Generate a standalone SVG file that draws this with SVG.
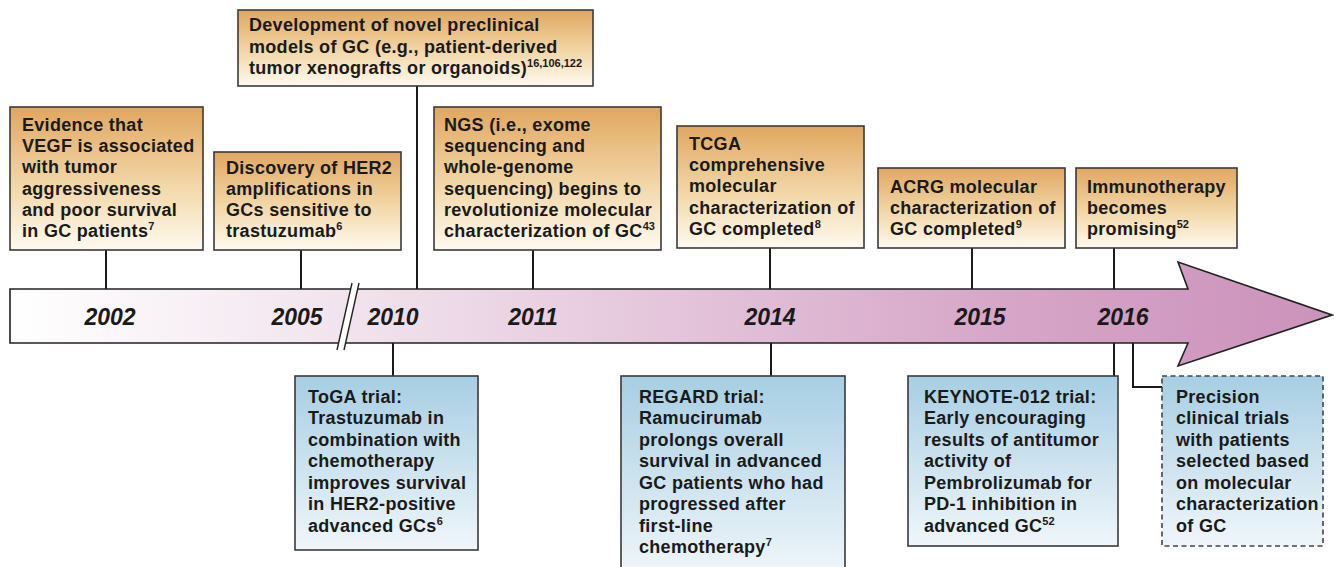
<svg xmlns="http://www.w3.org/2000/svg" width="1334" height="567" viewBox="0 0 1334 567">
<style>
.t{font-family:"Liberation Sans",Arial,sans-serif;font-size:18px;font-weight:bold;fill:#1a1a1a;letter-spacing:0.3px}
.s{font-size:11px;letter-spacing:0}
.yr{font-family:"Liberation Sans",Arial,sans-serif;font-size:23px;font-weight:bold;font-style:italic;fill:#1a1a1a;text-anchor:middle}
.ob{fill:url(#og);stroke:#3a3a3a;stroke-width:1.6}
.bb{fill:url(#bg);stroke:#3a3a3a;stroke-width:1.6}
.db{fill:url(#bg);stroke:#444;stroke-width:1.6;stroke-dasharray:5,3.5}
.ln{fill:none;stroke:#1a1a1a;stroke-width:2}
</style>
<defs>
<linearGradient id="og" x1="0" y1="0" x2="0" y2="1">
<stop offset="0" stop-color="#e0a760"/>
<stop offset="0.55" stop-color="#f2d7a8"/>
<stop offset="1" stop-color="#fffaf0"/>
</linearGradient>
<linearGradient id="bg" x1="0" y1="0" x2="0" y2="1">
<stop offset="0" stop-color="#a7cee3"/>
<stop offset="1" stop-color="#f0f6fa"/>
</linearGradient>
<linearGradient id="ag" gradientUnits="userSpaceOnUse" x1="10" y1="0" x2="1332" y2="0">
<stop offset="0" stop-color="#ffffff"/>
<stop offset="0.3" stop-color="#efdeea"/>
<stop offset="0.75" stop-color="#d6a6c8"/>
<stop offset="1" stop-color="#cc92bb"/>
</linearGradient>
</defs>
<rect width="1334" height="567" fill="#ffffff"/>

<g id="timeline">
<path d="M10,289 L1188,289 L1178,262 L1332,315 L1178,366 L1188,343 L10,343 Z" fill="url(#ag)" stroke="#222" stroke-width="1.6"/>
<polygon points="337,350 344,350 359,283 352,283" fill="#ffffff"/>
<line x1="337" y1="350" x2="352" y2="283" stroke="#222" stroke-width="1.4"/>
<line x1="344" y1="350" x2="359" y2="283" stroke="#222" stroke-width="1.4"/>
<text class="yr" x="110" y="325">2002</text>
<text class="yr" x="297" y="325">2005</text>
<text class="yr" x="393" y="325">2010</text>
<text class="yr" x="533" y="325">2011</text>
<text class="yr" x="770" y="325">2014</text>
<text class="yr" x="980" y="325">2015</text>
<text class="yr" x="1123" y="325">2016</text>
</g>

<g id="connectors">
<line class="ln" x1="106" y1="250" x2="106" y2="289"/>
<line class="ln" x1="301" y1="250" x2="301" y2="289"/>
<line class="ln" x1="417" y1="86" x2="417" y2="289"/>
<line class="ln" x1="533" y1="250" x2="533" y2="289"/>
<line class="ln" x1="770" y1="248" x2="770" y2="289"/>
<line class="ln" x1="972" y1="248" x2="972" y2="289"/>
<line class="ln" x1="1114" y1="248" x2="1114" y2="289"/>
<line class="ln" x1="393" y1="343" x2="393" y2="376"/>
<line class="ln" x1="771" y1="343" x2="771" y2="376"/>
<line class="ln" x1="1114" y1="343" x2="1114" y2="376"/>
<polyline class="ln" points="1133,343 1133,387 1162,387"/>
</g>

<g id="n-vegf">
<rect class="ob" x="10" y="107" width="193" height="143"/>
<text class="t"><tspan x="22" y="131">Evidence that</tspan><tspan x="22" y="152">VEGF is associated</tspan><tspan x="22" y="173">with tumor</tspan><tspan x="22" y="195">aggressiveness</tspan><tspan x="22" y="216">and poor survival</tspan><tspan x="22" y="237">in GC patients</tspan><tspan class="s" dy="-7">7</tspan></text>
</g>

<g id="n-her2">
<rect class="ob" x="214" y="152" width="187" height="98"/>
<text class="t"><tspan x="226" y="174">Discovery of HER2</tspan><tspan x="226" y="195">amplifications in</tspan><tspan x="226" y="216">GCs sensitive to</tspan><tspan x="226" y="237">trastuzumab</tspan><tspan class="s" dy="-7">6</tspan></text>
</g>

<g id="n-models">
<rect class="ob" x="238" y="10" width="355" height="76"/>
<text class="t"><tspan x="249" y="31">Development of novel preclinical</tspan><tspan x="249" y="53">models of GC (e.g., patient-derived</tspan><tspan x="249" y="74">tumor xenografts or organoids)</tspan><tspan class="s" dy="-7">16,106,122</tspan></text>
</g>

<g id="n-ngs">
<rect class="ob" x="434" y="107" width="227" height="143"/>
<text class="t"><tspan x="444" y="131">NGS (i.e., exome</tspan><tspan x="444" y="152">sequencing and</tspan><tspan x="444" y="173">whole-genome</tspan><tspan x="444" y="195">sequencing) begins to</tspan><tspan x="444" y="216">revolutionize molecular</tspan><tspan x="444" y="237">characterization of GC</tspan><tspan class="s" dy="-7">43</tspan></text>
</g>

<g id="n-tcga">
<rect class="ob" x="677" y="126" width="187" height="122"/>
<text class="t"><tspan x="689" y="150">TCGA</tspan><tspan x="689" y="171">comprehensive</tspan><tspan x="689" y="192">molecular</tspan><tspan x="689" y="214">characterization of</tspan><tspan x="689" y="235">GC completed</tspan><tspan class="s" dy="-7">8</tspan></text>
</g>

<g id="n-acrg">
<rect class="ob" x="878" y="168" width="187" height="80"/>
<text class="t"><tspan x="890" y="193">ACRG molecular</tspan><tspan x="890" y="214">characterization of</tspan><tspan x="890" y="235">GC completed</tspan><tspan class="s" dy="-7">9</tspan></text>
</g>

<g id="n-immuno">
<rect class="ob" x="1076" y="168" width="161" height="80"/>
<text class="t"><tspan x="1087" y="193">Immunotherapy</tspan><tspan x="1087" y="214">becomes</tspan><tspan x="1087" y="235">promising</tspan><tspan class="s" dy="-7">52</tspan></text>
</g>

<g id="n-toga">
<rect class="bb" x="295" y="376" width="183" height="174"/>
<text class="t"><tspan x="308" y="403">ToGA trial:</tspan><tspan x="308" y="424">Trastuzumab in</tspan><tspan x="308" y="446">combination with</tspan><tspan x="308" y="467">chemotherapy</tspan><tspan x="308" y="489">improves survival</tspan><tspan x="308" y="510">in HER2-positive</tspan><tspan x="308" y="532">advanced GCs</tspan><tspan class="s" dy="-7">6</tspan></text>
</g>

<g id="n-regard">
<rect class="bb" x="621" y="376" width="224" height="200"/>
<text class="t"><tspan x="639" y="403">REGARD trial:</tspan><tspan x="639" y="424">Ramucirumab</tspan><tspan x="639" y="446">prolongs overall</tspan><tspan x="639" y="467">survival in advanced</tspan><tspan x="639" y="489">GC patients who had</tspan><tspan x="639" y="510">progressed after</tspan><tspan x="639" y="532">first-line</tspan><tspan x="639" y="553">chemotherapy</tspan><tspan class="s" dy="-7">7</tspan></text>
</g>

<g id="n-keynote">
<rect class="bb" x="908" y="376" width="210" height="170"/>
<text class="t"><tspan x="924" y="403">KEYNOTE-012 trial:</tspan><tspan x="924" y="424">Early encouraging</tspan><tspan x="924" y="446">results of antitumor</tspan><tspan x="924" y="467">activity of</tspan><tspan x="924" y="489">Pembrolizumab for</tspan><tspan x="924" y="510">PD-1 inhibition in</tspan><tspan x="924" y="532">advanced GC</tspan><tspan class="s" dy="-7">52</tspan></text>
</g>

<g id="n-precision">
<rect class="db" x="1162" y="376" width="161" height="170"/>
<text class="t"><tspan x="1176" y="403">Precision</tspan><tspan x="1176" y="424">clinical trials</tspan><tspan x="1176" y="446">with patients</tspan><tspan x="1176" y="467">selected based</tspan><tspan x="1176" y="489">on molecular</tspan><tspan x="1176" y="510">characterization</tspan><tspan x="1176" y="532">of GC</tspan></text>
</g>
</svg>
